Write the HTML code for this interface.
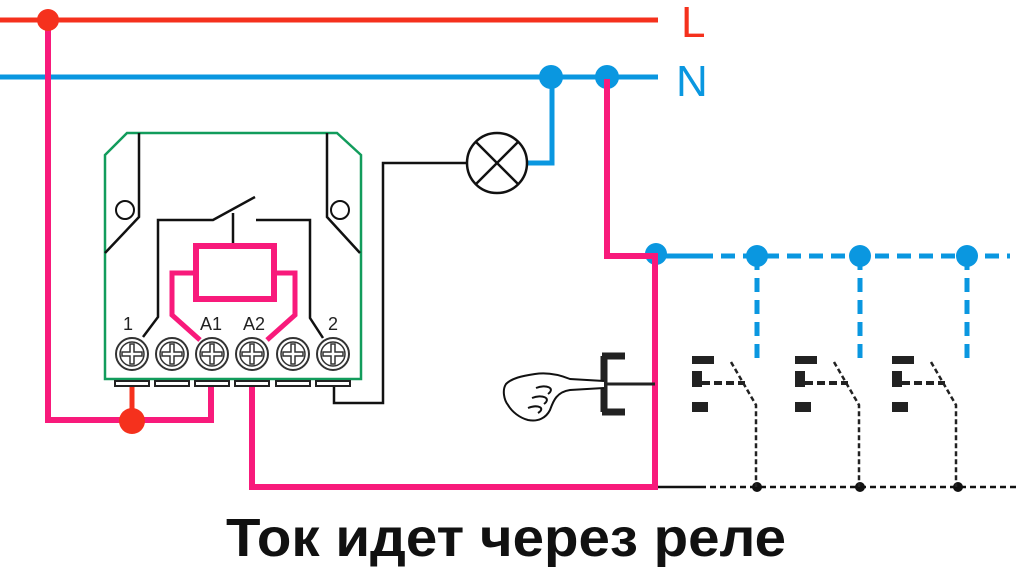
<!DOCTYPE html>
<html><head><meta charset="utf-8"><style>
html,body{margin:0;padding:0;background:#fff;width:1016px;height:579px;overflow:hidden}
</style></head><body>
<svg width="1016" height="579" viewBox="0 0 1016 579" xmlns="http://www.w3.org/2000/svg" font-family="Liberation Sans, sans-serif">
<defs>
<g id="t"><circle cx="0" cy="0" r="16" stroke-width="2"/><circle cx="0" cy="0" r="12" stroke-width="1.5"/>
<path d="M-10,-2H-2V-10H2V-2H10V2H2V10H-2V2H-10Z" stroke-width="1.5"/></g>
</defs>
<!-- L and N -->
<line x1="0" y1="20" x2="658" y2="20" stroke="#f5311d" stroke-width="5"/>
<line x1="0" y1="77" x2="658" y2="77" stroke="#0a97e0" stroke-width="5"/>
<text x="681" y="37" font-size="44" fill="#f5311d">L</text>
<text x="676" y="96" font-size="44" fill="#0a97e0">N</text>
<!-- blue dashed N branch -->
<line x1="655" y1="256" x2="1010" y2="256" stroke="#0a97e0" stroke-width="5" stroke-dasharray="14,8"/>
<line x1="655" y1="256" x2="700" y2="256" stroke="#0a97e0" stroke-width="5"/>
<g stroke="#0a97e0" stroke-width="5" stroke-dasharray="14,8">
<line x1="757" y1="256" x2="757" y2="362"/>
<line x1="860" y1="256" x2="860" y2="362"/>
<line x1="967" y1="256" x2="967" y2="362"/>
</g>
<g fill="#0a97e0">
<circle cx="757" cy="256" r="11"/><circle cx="860" cy="256" r="11"/><circle cx="967" cy="256" r="11"/>
<circle cx="656" cy="254" r="11"/>
<circle cx="551" cy="77" r="12"/><circle cx="607" cy="77" r="12"/>
</g>
<!-- lamp wiring -->
<polyline points="528,163 552,163 552,77" fill="none" stroke="#0a97e0" stroke-width="5"/>
<polyline points="466,163 383,163 383,403 334,403 334,386" fill="none" stroke="#111" stroke-width="2.5"/>
<circle cx="497" cy="163" r="30" fill="#fff" stroke="#111" stroke-width="2.5"/>
<line x1="476" y1="142" x2="518" y2="184" stroke="#111" stroke-width="2.5"/>
<line x1="518" y1="142" x2="476" y2="184" stroke="#111" stroke-width="2.5"/>
<!-- pink wires -->
<polyline points="48,20 48,420 211,420 211,385" fill="none" stroke="#f81a7b" stroke-width="6"/>
<polyline points="252,385 252,487 655,487 655,256 607,256 607,79" fill="none" stroke="#f81a7b" stroke-width="6"/>
<line x1="132" y1="385" x2="132" y2="420" stroke="#f5311d" stroke-width="5"/>
<circle cx="48" cy="20" r="11" fill="#f5311d"/>
<circle cx="132" cy="421" r="13" fill="#f5311d"/>
<!-- bottom dashed black line -->
<line x1="658" y1="487" x2="700" y2="487" stroke="#111" stroke-width="2.5"/>
<line x1="700" y1="487" x2="1016" y2="487" stroke="#111" stroke-width="2.5" stroke-dasharray="6,4"/>
<g fill="#111"><circle cx="757" cy="487" r="5"/><circle cx="860" cy="487" r="5"/><circle cx="958" cy="487" r="5"/></g>
<!-- relay box -->
<polygon points="127,133 337,133 361,155 361,379 105,379 105,155" fill="#fff" stroke="#129c5c" stroke-width="2.5"/>
<g fill="none" stroke="#111" stroke-width="2.5">
<polyline points="139,133 139,217 105,253"/>
<polyline points="327,133 327,217 360,253"/>
<polyline points="143,337 158,317 158,220 213,220 255,197"/>
<line x1="233" y1="213" x2="233" y2="245"/>
<polyline points="256,220 310,220 310,318 323,338"/>
</g>
<circle cx="125" cy="210" r="9" fill="#fff" stroke="#111" stroke-width="2"/>
<circle cx="340" cy="210" r="9" fill="#fff" stroke="#111" stroke-width="2"/>
<rect x="196" y="246" width="78" height="53" fill="none" stroke="#f81a7b" stroke-width="6"/>
<polyline points="196,273 172,273 172,315 200,340" fill="none" stroke="#f81a7b" stroke-width="5"/>
<polyline points="274,273 295,273 295,315 267,340" fill="none" stroke="#f81a7b" stroke-width="5"/>
<g font-size="18" fill="#222" text-anchor="middle">
<text x="128" y="330">1</text><text x="211" y="330">A1</text><text x="254" y="330">A2</text><text x="333" y="330">2</text>
</g>
<g stroke="#333" fill="#fff">
<use href="#t" x="132" y="354"/><use href="#t" x="172" y="354"/><use href="#t" x="212" y="354"/>
<use href="#t" x="252" y="354"/><use href="#t" x="293" y="354"/><use href="#t" x="333" y="354"/>
</g>
<g fill="#fff" stroke="#222" stroke-width="2">
<rect x="115" y="381" width="34" height="5"/><rect x="155" y="381" width="34" height="5"/><rect x="195" y="381" width="34" height="5"/>
<rect x="235" y="381" width="34" height="5"/><rect x="276" y="381" width="34" height="5"/><rect x="316" y="381" width="34" height="5"/>
</g>
<!-- push button with hand -->
<path d="M602,356 H625 M604,356 V412 M602,412 H625" stroke="#222" stroke-width="7" fill="none"/>
<line x1="604" y1="384" x2="655" y2="384" stroke="#222" stroke-width="3"/>
<path d="M604,381 L570,379 C560,375 548,372 535,374 C522,376 512,378 506,384 C502,390 504,400 508,405 C512,412 520,418 528,420 C538,422 546,418 550,410 C553,402 556,392 570,390 L604,388" fill="#fff" stroke="#111" stroke-width="2"/>
<path d="M536,388 C546,384 556,388 548,394 M532,398 C542,394 552,398 544,404 M528,408 C538,404 546,408 538,413" fill="none" stroke="#111" stroke-width="2"/>
<!-- other buttons -->
<g id="sw">
<rect x="692" y="356" width="22" height="8" fill="#222"/>
<rect x="692" y="371" width="10" height="16" fill="#222"/>
<rect x="692" y="402" width="16" height="10" fill="#222"/>
<line x1="702" y1="383" x2="745" y2="383" stroke="#222" stroke-width="4" stroke-dasharray="8,4"/>
<path d="M731,362 L756,405 V487" fill="none" stroke="#222" stroke-width="2.5" stroke-dasharray="5,3"/>
</g>
<use href="#sw" x="103"/>
<use href="#sw" x="200"/>
<!-- caption -->
<text x="226" y="556" font-size="54" font-weight="bold" fill="#111" textLength="560" lengthAdjust="spacingAndGlyphs" font-family="Liberation Sans Narrow, Liberation Sans, sans-serif">Ток идет через реле</text>
</svg>
</body></html>
